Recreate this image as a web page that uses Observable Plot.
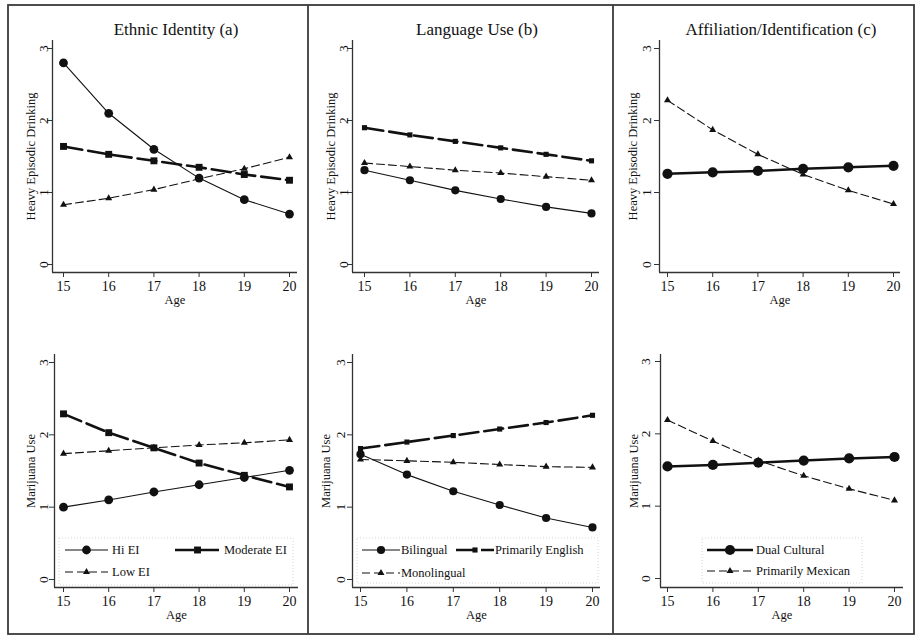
<!DOCTYPE html>
<html><head><meta charset="utf-8">
<script src="https://cdn.jsdelivr.net/npm/d3@7"></script>
<script src="https://cdn.jsdelivr.net/npm/@observablehq/plot@0.6"></script>
<style>
body{margin:0;background:#fff;}
#fig{position:relative;width:922px;height:640px;overflow:hidden;background:#fff;font-family:"Liberation Serif","Times New Roman",serif;}
#fig svg{position:absolute;left:0;top:0;}
</style></head><body><div id="fig"></div>
<script>
// ---------- data ----------
const ages = [15, 16, 17, 18, 19, 20];
const yTicks = [0, 1, 2, 3];
const panelTitles = ["Ethnic Identity (a)", "Language Use (b)", "Affiliation/Identification (c)"];
const outcomeLabels = ["Heavy Episodic Drinking", "Marijuana Use"];
const xLabel = "Age";

const eiNames = ["Hi EI", "Moderate EI", "Low EI"];
const langNames = ["Bilingual", "Primarily English", "Monolingual"];
const affNames = ["Dual Cultural", "Primarily Mexican"];

// Heavy episodic drinking
const hedHiEI       = [2.80, 2.10, 1.60, 1.20, 0.90, 0.70];
const hedModerateEI = [1.64, 1.53, 1.44, 1.35, 1.25, 1.17];
const hedLowEI      = [0.83, 0.92, 1.04, 1.19, 1.33, 1.49];
const hedBilingual  = [1.31, 1.17, 1.03, 0.91, 0.80, 0.71];
const hedPrimEnglish= [1.90, 1.80, 1.71, 1.62, 1.53, 1.44];
const hedMonolingual= [1.41, 1.36, 1.31, 1.27, 1.22, 1.17];
const hedDual       = [1.26, 1.28, 1.30, 1.33, 1.35, 1.37];
const hedPrimMexican= [2.28, 1.87, 1.53, 1.25, 1.03, 0.84];

// Marijuana use
const mjHiEI        = [1.00, 1.10, 1.21, 1.31, 1.41, 1.51];
const mjModerateEI  = [2.29, 2.03, 1.82, 1.61, 1.44, 1.28];
const mjLowEI       = [1.74, 1.78, 1.82, 1.86, 1.89, 1.93];
const mjBilingual   = [1.73, 1.45, 1.22, 1.03, 0.85, 0.72];
const mjPrimEnglish = [1.81, 1.90, 1.99, 2.08, 2.17, 2.27];
const mjMonolingual = [1.66, 1.64, 1.62, 1.59, 1.56, 1.55];
const mjDual        = [1.55, 1.57, 1.60, 1.63, 1.66, 1.68];
const mjPrimMexican = [2.19, 1.90, 1.63, 1.42, 1.24, 1.08];

// ---------- styles ----------
const ink = "#111";
const axisInk = "#333";
const FONT = "'Liberation Serif', 'Times New Roman', serif";
const styles = {
  thinSolidCircle:  {sw: 1.1, dash: null,  symbol: "circle",   r: 4.4},
  thinSolidCircleS: {sw: 1.1, dash: null,  symbol: "circle",   r: 4.1},
  thickDashSquare:  {sw: 2.6, dash: "19,6", symbol: "square",  r: 3.9},
  thickDashSquareS: {sw: 2.6, dash: "19,6", symbol: "square",  r: 2.9},
  thinDashTriangle: {sw: 1.1, dash: "8,4", symbol: "triangle", r: 2.6},
  thickSolidCircle: {sw: 2.5, dash: null,  symbol: "circle",   r: 5.1}
};

const panels = [
  // top row
  {L: 52, R: 297, T: 40, B: 272, x15: 63, x20: 289, y0: 264, y3: 48, tickDx: -9, labDx: -22, title: 0, outcome: 0,
   series: [[eiNames[0], hedHiEI, "thinSolidCircle"], [eiNames[1], hedModerateEI, "thickDashSquare"], [eiNames[2], hedLowEI, "thinDashTriangle"]]},
  {L: 352, R: 599, T: 40, B: 272, x15: 364, x20: 591, y0: 264, y3: 48, tickDx: -9, labDx: -22, title: 1, outcome: 0,
   series: [[langNames[0], hedBilingual, "thinSolidCircleS"], [langNames[1], hedPrimEnglish, "thickDashSquareS"], [langNames[2], hedMonolingual, "thinDashTriangle"]]},
  {L: 659, R: 900, T: 40, B: 272, x15: 667, x20: 893, y0: 264, y3: 48, tickDx: -13, labDx: -27, title: 2, outcome: 0,
   series: [[affNames[0], hedDual, "thickSolidCircle"], [affNames[1], hedPrimMexican, "thinDashTriangle"]]},
  // bottom row
  {L: 54, R: 298, T: 354, B: 587, x15: 63, x20: 289, y0: 579, y3: 362, tickDx: -11, labDx: -24, outcome: 1,
   series: [[eiNames[0], mjHiEI, "thinSolidCircle"], [eiNames[1], mjModerateEI, "thickDashSquare"], [eiNames[2], mjLowEI, "thinDashTriangle"]],
   legend: {box: [59, 293, 538, 585], rows: [550, 572], cols: [[65, 108], [175, 220]], textGap: 4}},
  {L: 352, R: 600, T: 354, B: 587, x15: 360, x20: 592, y0: 579, y3: 362, tickDx: -12, labDx: -27, outcome: 1,
   series: [[langNames[0], mjBilingual, "thinSolidCircleS"], [langNames[1], mjPrimEnglish, "thickDashSquareS"], [langNames[2], mjMonolingual, "thinDashTriangle"]],
   legend: {box: [357, 598, 538, 583], rows: [550, 573], cols: [[362, 400], [456, 494]], textGap: 1}},
  {L: 660, R: 903, T: 354, B: 587, x15: 667, x20: 894, y0: 578, y3: 361, tickDx: -15, labDx: -27, outcome: 1,
   series: [[affNames[0], mjDual, "thickSolidCircle"], [affNames[1], mjPrimMexican, "thinDashTriangle"]],
   legend: {box: [702, 862, 538, 583], rows: [550, 571], cols: [[707, 753]], textGap: 3}}
];

const W = 922, H = 640;
const fig = document.getElementById("fig");

for (const g of panels) {
  const kx = (g.x20 - g.x15) / 5, ky = (g.y0 - g.y3) / 3;
  const xDom = [15 - (g.x15 - g.L) / kx, 20 + (g.R - g.x20) / kx];
  const yDom = [-(g.B - g.y0) / ky, 3 + (g.y3 - g.T) / ky];
  const marks = [
    Plot.ruleX([xDom[0]], {y1: yDom[0], y2: yDom[1], stroke: axisInk, strokeWidth: 1.3}),
    Plot.ruleY([yDom[0]], {x1: xDom[0], x2: xDom[1], stroke: axisInk, strokeWidth: 1.3}),
    Plot.axisX({ticks: ages, tickSize: 5, tickPadding: 4, label: null, stroke: axisInk, fill: ink, fontSize: 14, tickFormat: d => String(d)}),
    Plot.axisY({ticks: yTicks, tickSize: 5, label: null, stroke: axisInk, tickFormat: () => ""}),
    Plot.text(yTicks, {y: d => d, text: d => String(d), frameAnchor: "left", dx: g.tickDx, rotate: -90,
      textAnchor: "middle", lineAnchor: "middle", fontSize: 13.5, fill: ink}),
    Plot.text([xLabel], {text: d => d, frameAnchor: "bottom", dy: 27, lineAnchor: "middle", textAnchor: "middle", fontSize: 12.5, fill: ink}),
    Plot.text([outcomeLabels[g.outcome]], {text: d => d, frameAnchor: "left", dx: g.labDx, rotate: -90,
      textAnchor: "middle", lineAnchor: "middle", fontSize: 12.5, fill: ink})
  ];
  for (const [name, values, st] of g.series) {
    const s = styles[st];
    const rows = values.map((v, i) => ({age: ages[i], value: v, name}));
    marks.push(Plot.line(rows, {x: "age", y: "value", stroke: ink, strokeWidth: s.sw, strokeDasharray: s.dash}));
    marks.push(Plot.dot(rows, {x: "age", y: "value", symbol: s.symbol, r: s.r, fill: ink, stroke: "none"}));
  }
  const svg = Plot.plot({
    width: W, height: H,
    marginLeft: g.L, marginRight: W - g.R, marginTop: g.T, marginBottom: H - g.B,
    x: {domain: xDom}, y: {domain: yDom},
    style: {background: "transparent", fontFamily: FONT, fontSize: "13px", overflow: "visible"},
    marks
  });
  fig.appendChild(svg);
}

// ---------- overlay: frame, titles, legends ----------
const ov = d3.select(fig).append("svg").attr("width", W).attr("height", H)
  .style("font-family", FONT);
ov.append("rect").attr("x", 8).attr("y", 5).attr("width", 906).attr("height", 629)
  .attr("fill", "none").attr("stroke", "#3a3a3a").attr("stroke-width", 1.8);
for (const xv of [308, 613]) ov.append("line").attr("x1", xv).attr("x2", xv).attr("y1", 5).attr("y2", 634)
  .attr("stroke", "#3a3a3a").attr("stroke-width", 1.8);

for (const g of panels.filter(p => p.title !== undefined)) {
  ov.append("text").attr("x", (g.L + g.R) / 2 + 1.5).attr("y", 35).attr("text-anchor", "middle")
    .attr("font-size", 17).attr("fill", ink).text(panelTitles[g.title]);
}

for (const g of panels.filter(p => p.legend)) {
  const lg = g.legend;
  ov.append("rect").attr("x", lg.box[0]).attr("y", lg.box[2]).attr("width", lg.box[1] - lg.box[0]).attr("height", lg.box[3] - lg.box[2])
    .attr("fill", "none").attr("stroke", "#d4d4d4").attr("stroke-width", 1).attr("stroke-dasharray", "1,2");
  g.series.forEach(([name, values, st], i) => {
    const nc = lg.cols.length;
    const col = lg.cols[i % nc], yy = lg.rows[Math.floor(i / nc)];
    const s = styles[st];
    ov.append("line").attr("x1", col[0]).attr("x2", col[1]).attr("y1", yy).attr("y2", yy)
      .attr("stroke", ink).attr("stroke-width", s.sw).attr("stroke-dasharray", s.dash);
    const sym = {circle: d3.symbolCircle, square: d3.symbolSquare, triangle: d3.symbolTriangle}[s.symbol];
    ov.append("path").attr("d", d3.symbol(sym, Math.PI * s.r * s.r)())
      .attr("transform", `translate(${(col[0] + col[1]) / 2},${yy})`).attr("fill", ink);
    ov.append("text").attr("x", col[1] + lg.textGap).attr("y", yy).attr("dy", "0.35em")
      .attr("font-size", 12.5).attr("fill", ink).text(name);
  });
}
</script></body></html>
